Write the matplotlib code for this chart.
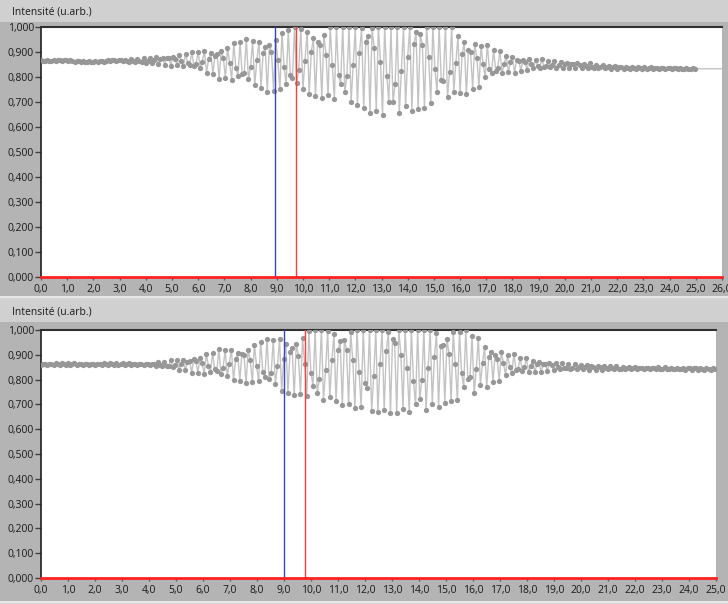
import matplotlib
matplotlib.use("Agg")
import matplotlib.pyplot as plt
import numpy as np
from matplotlib.patches import Rectangle

# ---------------- data ----------------
top_step = 0.08
top_values = [
    .869, .864, .865, .869, .864, .866, .869, .863, .867, .868,
    .863, .867, .868, .863, .868, .864, .860, .865, .863, .861,
    .866, .862, .861, .866, .862, .862, .866, .861, .863, .866,
    .860, .866, .868, .863, .867, .868, .863, .868, .867, .863,
    .868, .866,
    .859, .873, .865, .860, .874, .863,
    .860, .878, .858, .863, .877, .856,
    .867, .881, .851, .871, .878, .850,
    .878, .876, .846, .882, .871, .848,
    .889, .864, .845, .892, .857, .850,
    .901, .844, .853, .900, .837, .862,
    .906, .818, .872, .898, .814, .884,
    .894, .792, .904, .878, .796, .916,
    .858, .790, .936, .837, .805, .941,
    .811, .818, .952, .791, .841, .944,
    .768, .868, .939, .758, .895, .919,
    .742, .928, .900, .746, .950, .870,
    .751, .978, .840, .772, .988, .808,
    .796, 1.00, .777, .829, .992, .753,
    .864, .980, .731, .901, .955, .723,
    .939, .927, .716, .970, .890, .728,
    1.00, .850, .712, 1.00, .810, .773,
    1.00, .740, .805, 1.00, .700, .849,
    1.00, .690, .895, .996, .675, .942,
    .966, .655, .996, .916, .666, 1.00,
    .862, .650, 1.00, .806, .700, 1.00,
    .700, .771, 1.00, .655, .825, 1.00,
    .685, .880, 1.00, .665, .932, .979,
    .672, .971, .927, .678, 1.00, .879,
    .695, 1.00, .832, .742, 1.00, .790,
    .786, 1.00, .720, .822, .999, .739,
    .858, .963, .738, .891, .940, .731,
    .910, .901, .754, .931, .875, .762,
    .923, .851, .801, .930, .832, .815,
    .908, .826, .838, .906, .816, .851,
    .885, .819, .859, .879, .817, .869,
    .866, .825, .869, .859, .827, .874,
    .851, .835, .870, .846, .838, .871,
    .842, .843, .866, .839, .847, .864,
    .837, .850, .860, .835, .854, .857,
    .835, .854, .851, .835, .856, .848,
    .836, .854, .843, .838, .855, .841,
    .838, .850, .837, .840, .850, .835,
    .839, .844, .833, .841, .843, .833,
    .840, .839, .832, .841, .838, .832,
    .839, .836, .833, .840, .835, .834,
    .840, .834, .835, .839, .832, .835,
    .838, .831, .836, .838, .831, .837,
    .837, .831, .837, .836, .831, .838,
    .834, .831, .838, .833, .832, .838, .833,
]
top_tail_x = 26.0
top_tail_value = 0.833

bottom_step = 0.0775
bottom_values = [
    .859, .864, .863, .859, .864, .862, .859, .865, .861, .860,
    .865, .861, .860, .865, .860, .861, .865, .860, .862, .864,
    .859, .863, .864, .859, .864, .863, .859, .864, .863, .859,
    .865, .862, .860, .865, .861, .860, .865, .860, .861, .865,
    .860, .862, .865, .859, .862, .864, .859, .863, .864, .859,
    .864, .863, .859, .864,
    .862, .854, .871, .859, .856, .872,
    .853, .854, .880, .849, .859, .878,
    .840, .864, .881, .838, .871, .876,
    .827, .882, .874, .828, .889, .865,
    .821, .905, .854, .829, .908, .842,
    .833, .923, .824, .847, .919, .814,
    .864, .921, .798, .882, .909, .794,
    .904, .898, .785, .921, .878, .792,
    .941, .855, .794, .950, .832, .811,
    .964, .803, .827, .961, .784, .853,
    .963, .756, .882, .945, .747, .911,
    .927, .736, .945, .896, .743, .968,
    .864, .735, .994, .828, .775, 1.00,
    .745, .802, 1.00, .718, .838, .997,
    .728, .878, .984, .712, .918, .954,
    .696, .960, .921, .702, .993, .879,
    .685, 1.00, .832, .690, 1.00, .787,
    .767, 1.00, .672, .813, 1.00, .668,
    .863, 1.00, .677, .914, .990, .666,
    .963, .948, .666, 1.00, .898, .682,
    1.00, .846, .668, 1.00, .796, .700,
    1.00, .720, .798, 1.00, .678, .846,
    1.00, .703, .892, .986, .690, .936,
    .941, .705, .964, .903, .713, .991,
    .861, .718, .993, .825, .771, .999,
    .803, .811, .976, .745, .841, .967,
    .780, .868, .930, .771, .891, .913,
    .792, .899, .883, .794, .912, .866,
    .820, .900, .851, .827, .903, .840,
    .841, .889, .836, .849, .887, .831,
    .855, .875, .832, .861, .870, .831,
    .863, .862, .836, .867, .857, .838,
    .865, .852, .842, .867, .848, .845,
    .863, .844, .847, .863, .842, .850,
    .859, .841, .852, .857, .840, .854,
    .852, .840, .853, .850, .840, .855,
    .847, .842, .853, .845, .843, .853,
    .844, .844, .850, .843, .845, .850, .843, .846, .849, .842, .847, .848,
    .841, .847, .846, .841, .848, .845, .842, .849, .844, .842, .849, .843,
    .842, .848, .841, .843, .848, .841, .844, .847, .840, .845, .847, .840,
    .845, .845, .839, .846, .844, .839, .846, .843, .840, .847, .842,
]

top_xmax = 26
bottom_xmax = 25
top_cursor_blue = 8.93
top_cursor_red = 9.73
bottom_cursor_blue = 9.01
bottom_cursor_red = 9.76
y_ticks = [0.0, 0.1, 0.2, 0.3, 0.4, 0.5, 0.6, 0.7, 0.8, 0.9, 1.0]
title_text = "Intensité (u.arb.)"

# ---------------- figure ----------------
W, H = 728, 604
fig = plt.figure(figsize=(W / 100, H / 100), dpi=100)
fig.patch.set_facecolor("#d4d4d4")

LIGHT = "#d0d0d0"
MID = "#b4b4b4"
FONT = ["Open Sans", "DejaVu Sans"]


def rect(x0, y0, x1, y1, color):
    fig.patches.append(Rectangle((x0 / W, 1 - y1 / H), (x1 - x0) / W, (y1 - y0) / H,
                                 transform=fig.transFigure, facecolor=color,
                                 edgecolor="none", zorder=-10))


def panel(xs, ys, xmax, blue, red, ftop, fbot, left, right, top, bottom, mark_n):
    rect(0, ftop, W, ftop + 22, LIGHT)
    rect(0, ftop + 22, W, fbot, MID)
    rect(0, fbot, W, fbot + 1.5, "#e6e6e6")
    fig.text(12 / W, 1 - (ftop + 12) / H, title_text, fontsize=7.5, family=FONT,
             color="#1a1a1a", va="center", ha="left", zorder=5)
    ax = fig.add_axes([left / W, 1 - bottom / H, (right - left) / W, (bottom - top) / H])
    ax.set_zorder(2)
    ax.set_facecolor("white")
    ax.set_xlim(0, xmax)
    ax.set_ylim(0, 1)
    ax.plot(xs, ys, color="#c3c3c3", lw=1.0, marker="o", ms=3.8,
            mfc="#979797", mec="#979797", mew=0, markevery=mark_n, zorder=3)
    ax.axvline(blue, color="#3046c8", lw=1.0, zorder=4)
    ax.axvline(red, color="#ff3b3b", lw=1.0, zorder=4)
    ax.axhline(0, color="#ff2020", lw=2.0, zorder=5, clip_on=False)
    ax.set_yticks(y_ticks)
    ax.set_yticklabels([f"{v:.3f}".replace(".", ",") for v in y_ticks])
    xt = list(range(0, xmax + 1))
    ax.set_xticks(xt)
    ax.set_xticklabels([f"{v:.1f}".replace(".", ",") for v in xt])
    for lab in ax.get_xticklabels() + ax.get_yticklabels():
        lab.set_family(FONT)
    ax.tick_params(axis="y", direction="out", length=4, width=1, color="#404040",
                   labelsize=7.5, pad=1, labelcolor="#1a1a1a")
    ax.tick_params(axis="x", direction="out", length=2, width=1, color="#606060",
                   labelsize=7.5, pad=3, labelcolor="#1a1a1a")
    for s in ["right", "bottom"]:
        ax.spines[s].set_visible(False)
    ax.spines["left"].set_color("#202020")
    ax.spines["left"].set_linewidth(1.2)
    ax.spines["top"].set_color("#303030")
    ax.spines["top"].set_linewidth(1.5)
    return ax


top_x = np.append(np.arange(len(top_values)) * top_step, top_tail_x)
top_y = np.append(np.array(top_values), top_tail_value)
bottom_x = np.arange(len(bottom_values)) * bottom_step
bottom_y = np.array(bottom_values)

panel(top_x, top_y, top_xmax, top_cursor_blue, top_cursor_red,
      0, 296, 41, 722, 27, 277, list(range(len(top_values))))
panel(bottom_x, bottom_y, bottom_xmax, bottom_cursor_blue, bottom_cursor_red,
      300, 601, 41, 716, 330, 578, None)

fig.savefig("out.png", dpi=100, facecolor=fig.get_facecolor())
